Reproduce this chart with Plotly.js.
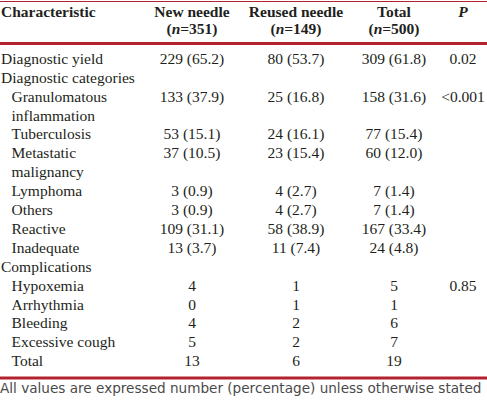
<!DOCTYPE html>
<html>
<head>
<meta charset="utf-8">
<script src="https://cdn.plot.ly/plotly-3.0.1.min.js"></script>
<style>
html,body{margin:0;padding:0;background:#fff;}
#chart{width:487px;height:400px;}
</style>
</head>
<body>
<div id="chart"></div>
<script>
// ---- data ----
const headerTitles = ["Characteristic", "New needle", "Reused needle", "Total", "P"];
const headerN = ["", "351", "149", "500", ""];
const characteristics = [
  ["Diagnostic yield"],
  ["Diagnostic categories"],
  ["Granulomatous", "inflammation"],
  ["Tuberculosis"],
  ["Metastatic", "malignancy"],
  ["Lymphoma"],
  ["Others"],
  ["Reactive"],
  ["Inadequate"],
  ["Complications"],
  ["Hypoxemia"],
  ["Arrhythmia"],
  ["Bleeding"],
  ["Excessive cough"],
  ["Total"]
];
const indentLevel = [0, 0, 1, 1, 1, 1, 1, 1, 1, 0, 1, 1, 1, 1, 1];
const newNeedle = ["229 (65.2)", "", "133 (37.9)", "53 (15.1)", "37 (10.5)", "3 (0.9)", "3 (0.9)", "109 (31.1)", "13 (3.7)", "", "4", "0", "4", "5", "13"];
const reusedNeedle = ["80 (53.7)", "", "25 (16.8)", "24 (16.1)", "23 (15.4)", "4 (2.7)", "4 (2.7)", "58 (38.9)", "11 (7.4)", "", "1", "1", "2", "2", "6"];
const totalCol = ["309 (61.8)", "", "158 (31.6)", "77 (15.4)", "60 (12.0)", "7 (1.4)", "7 (1.4)", "167 (33.4)", "24 (4.8)", "", "5", "1", "6", "7", "19"];
const pValues = ["0.02", "", "<0.001", "", "", "", "", "", "", "", "0.85", "", "", "", ""];
const footnote = "All values are expressed number (percentage) unless otherwise stated";

// ---- layout constants ----
const W = 487, H = 400;
const colX = [1, 192, 296, 394, 463];
const indentX = [1, 11.5];
const header1Y = 13, header2Y = 30;
const firstRowY = 60, lineH = 18.9;
const serif = '"Liberation Serif"';
const textColor = "#231f20";
const rule = "#b3222f";

// build label lines
const lx = [], ly = [], lt = [];
const cx = [[], [], [], []], cy = [[], [], [], []], ct = [[], [], [], []];
const valueCols = [newNeedle, reusedNeedle, totalCol, pValues];
let line = 0;
characteristics.forEach((parts, i) => {
  const y0 = firstRowY + lineH * line;
  parts.forEach((p, k) => {
    lx.push(indentX[indentLevel[i]]);
    ly.push(firstRowY + lineH * (line + k));
    lt.push(p);
  });
  valueCols.forEach((col, c) => {
    if (col[i] !== "") {
      cx[c].push(colX[c + 1]);
      cy[c].push(y0);
      ct[c].push(col[i]);
    }
  });
  line += parts.length;
});
const bottomRuleY = firstRowY + lineH * (line - 1) + 15.5;

const traces = [];
const baseFont = {family: serif, size: 15.5, color: textColor};
traces.push({
  type: "scatter", mode: "text", x: lx, y: ly, text: lt,
  textposition: "middle right", textfont: baseFont, hoverinfo: "skip", cliponaxis: false
});
for (let c = 0; c < 4; c++) {
  traces.push({
    type: "scatter", mode: "text", x: cx[c], y: cy[c], text: ct[c],
    textposition: "middle center", textfont: baseFont, hoverinfo: "skip", cliponaxis: false
  });
}
// header
const hx = [], hy = [], ht = [];
headerTitles.forEach((t, i) => {
  if (i === 0) return;
  hx.push(colX[i]); hy.push(header1Y);
  ht.push(i === 4 ? "<b><i>" + t + "</i></b>" : "<b>" + t + "</b>");
  if (headerN[i] !== "") {
    hx.push(colX[i]); hy.push(header2Y);
    ht.push("<b>(<i>n</i>=" + headerN[i] + ")</b>");
  }
});
traces.push({
  type: "scatter", mode: "text", x: hx, y: hy, text: ht,
  textposition: "middle center", textfont: baseFont, hoverinfo: "skip", cliponaxis: false
});
traces.push({
  type: "scatter", mode: "text", x: [colX[0]], y: [header1Y], text: ["<b>" + headerTitles[0] + "</b>"],
  textposition: "middle right", textfont: baseFont, hoverinfo: "skip", cliponaxis: false
});
traces.push({
  type: "scatter", mode: "text", x: [0], y: [bottomRuleY + 12], text: [footnote],
  textposition: "middle right", textfont: {family: '"DejaVu Sans"', size: 13.6, color: "#4a4a4a"},
  hoverinfo: "skip", cliponaxis: false
});

const layout = {
  width: W, height: H,
  margin: {l: 0, r: 0, t: 0, b: 0, pad: 0},
  paper_bgcolor: "#fff", plot_bgcolor: "#fff",
  showlegend: false,
  xaxis: {range: [0, W], visible: false, fixedrange: true},
  yaxis: {range: [H, 0], visible: false, fixedrange: true},
  shapes: [
    {type: "line", xref: "paper", yref: "y", x0: 0, x1: 1, y0: 1.5, y1: 1.5, line: {color: rule, width: 1.2}},
    {type: "line", xref: "paper", yref: "y", x0: 0, x1: 1, y0: 43.5, y1: 43.5, line: {color: rule, width: 3}},
    {type: "line", xref: "paper", yref: "y", x0: 0, x1: 1, y0: bottomRuleY, y1: bottomRuleY, line: {color: rule, width: 3}}
  ]
};
Plotly.newPlot("chart", traces, layout, {staticPlot: true, displayModeBar: false});
</script>
</body>
</html>
